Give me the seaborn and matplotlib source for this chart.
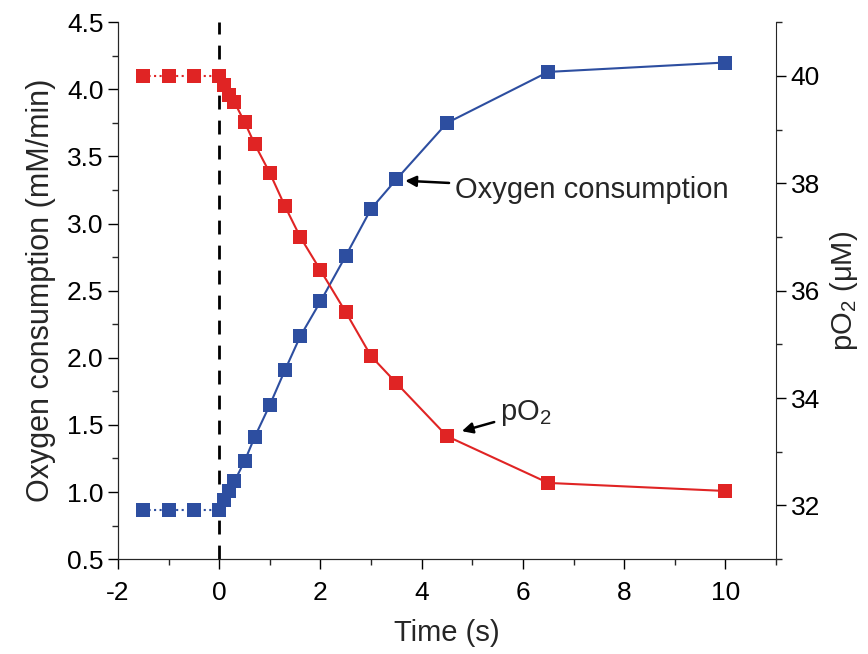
import pandas as pd
import seaborn as sns
import matplotlib.pyplot as plt
from matplotlib.ticker import MultipleLocator

time_s = [-1.5, -1.0, -0.5, 0.0, 0.1, 0.2, 0.3, 0.5, 0.7, 1.0, 1.3, 1.6, 2.0, 2.5, 3.0, 3.5, 4.5, 6.5, 10.0]
oxygen_consumption = [0.87, 0.87, 0.87, 0.87, 0.94, 1.01, 1.08, 1.23, 1.41, 1.65, 1.91, 2.16, 2.42, 2.76, 3.11, 3.33, 3.75, 4.13, 4.20]
po2 = [40.0, 40.0, 40.0, 40.0, 39.83, 39.64, 39.51, 39.14, 38.73, 38.19, 37.57, 37.0, 36.38, 35.6, 34.78, 34.28, 33.29, 32.42, 32.27]

blue = "#2D4EA0"
red = "#E02424"

sns.set_style("ticks")
plt.rcParams['font.family'] = ['Liberation Sans', 'DejaVu Sans']
plt.rcParams['axes.unicode_minus'] = False
plt.rcParams['mathtext.default'] = 'regular'

df = pd.DataFrame({"time": time_s, "oc": oxygen_consumption, "po2": po2})
pre = df[df["time"] <= 0]
post = df[df["time"] >= 0]

fig, ax = plt.subplots(figsize=(8.68, 6.54), dpi=100)
ax2 = ax.twinx()

# dotted baseline before t=0, solid after
sns.lineplot(data=pre, x="time", y="oc", ax=ax, color=blue, linestyle=":", lw=1.5,
             marker="s", markersize=10, markeredgewidth=0)
sns.lineplot(data=post, x="time", y="oc", ax=ax, color=blue, lw=1.5,
             marker="s", markersize=10, markeredgewidth=0)
sns.lineplot(data=pre, x="time", y="po2", ax=ax2, color=red, linestyle=":", lw=1.5,
             marker="s", markersize=10, markeredgewidth=0)
sns.lineplot(data=post, x="time", y="po2", ax=ax2, color=red, lw=1.5,
             marker="s", markersize=10, markeredgewidth=0)

ax.axvline(0, color="black", linestyle=(0, (5, 4)), lw=2, zorder=0)

ax.set_xlim(-2, 11)
ax.set_ylim(0.5, 4.5)
ax2.set_ylim(31, 41)
ax.xaxis.set_major_locator(MultipleLocator(2))
ax.xaxis.set_minor_locator(MultipleLocator(1))
ax.yaxis.set_major_locator(MultipleLocator(0.5))
ax.yaxis.set_minor_locator(MultipleLocator(0.25))
ax.yaxis.set_major_formatter(plt.FormatStrFormatter("%.1f"))
ax2.yaxis.set_major_locator(MultipleLocator(2))
ax2.yaxis.set_minor_locator(MultipleLocator(1))

for a in (ax, ax2):
    a.tick_params(which="major", length=7, width=1, labelsize=19, colors="black")
    a.tick_params(which="minor", length=4, width=1)
    a.spines["top"].set_visible(False)
ax.spines["right"].set_visible(False)
ax.tick_params(axis="x", pad=9)

ax.set_xlabel("Time (s)", fontsize=21, labelpad=10)
ax.set_ylabel("Oxygen consumption (mM/min)", fontsize=22, labelpad=8)
ax2.set_ylabel("pO$_2$ (μM)", fontsize=21, labelpad=6)

ax.annotate("Oxygen consumption", xy=(3.62, 3.32), xytext=(4.66, 3.25),
            fontsize=21, va="center",
            arrowprops=dict(arrowstyle="-|>", color="black", lw=1.8, mutation_scale=16))
ax2.annotate("pO$_2$", xy=(4.74, 33.37), xytext=(5.55, 33.72),
             fontsize=21, va="center",
             arrowprops=dict(arrowstyle="-|>", color="black", lw=1.8, mutation_scale=16))

plt.subplots_adjust(left=0.136, right=0.894, top=0.966, bottom=0.145)
plt.savefig("out.png", dpi=100)
plt.close()
